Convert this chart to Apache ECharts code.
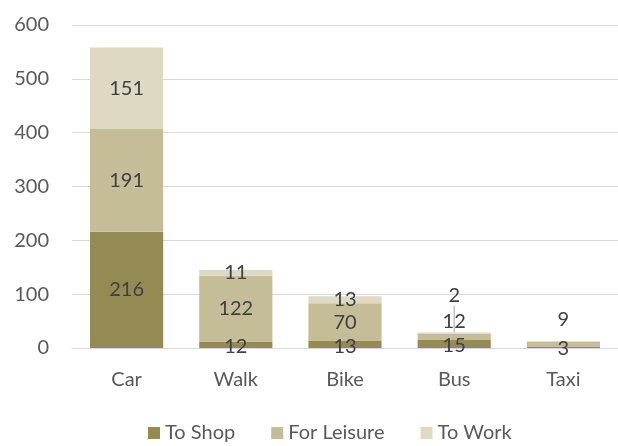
<!DOCTYPE html>
<html>
<head>
<meta charset="utf-8">
<script src="https://cdn.jsdelivr.net/npm/echarts@6/dist/echarts.min.js"></script>
<style>
    html, body { margin: 0; padding: 0; background: #fff; }
    #chart { width: 618px; height: 446px; }
</style>
</head>
<body>
<div id="chart"></div>
<script>
// data
const modes = ['Car', 'Walk', 'Bike', 'Bus', 'Taxi']
const toShop = [216, 12, 13, 15, 3]
const forLeisure = [191, 122, 70, 12, 9]
const toWork = [151, 11, 13, 2, 0]
const yTicks = [0, 100, 200, 300, 400, 500, 600]

// label nudges for the small segments (seriesIndex-dataIndex -> [dx, dy])
const labelShift = {
    '0-1': [0, 2], '0-2': [0, 2], '0-3': [0, 2], '0-4': [0, 1],
    '1-3': [0, -15], '1-4': [0, -24],
    '2-3': [0, -37]
}

const font = 'Lato, "Open Sans", sans-serif'
const textColor = '#595959'
const colors = ['#948a54', '#c4bd97', '#ddd9c3']

let chart = echarts.init(document.getElementById('chart'), null, {renderer: 'canvas'})

function makeSeries(name, data, idx) {
    return {
        name: name,
        type: 'bar',
        stack: 'total',
        barWidth: '67%',
        data: data,
        itemStyle: { color: colors[idx] },
        label: {
            show: true,
            position: 'inside',
            offset: [0, 2],
            color: '#404040',
            fontFamily: font,
            fontSize: 20,
            formatter: function (p) { return p.value ? String(p.value) : '' }
        },
        labelLine: {
            show: idx === 2,
            lineStyle: { color: '#a6a6a6', width: 1 }
        },
        labelLayout: function (p) {
            let s = labelShift[idx + '-' + p.dataIndex]
            if (!s) return {}
            return { dx: s[0], dy: s[1] }
        }
    }
}

chart.setOption({
    backgroundColor: '#fff',
    animation: false,
    grid: {
        left: 72,
        top: 25,
        width: 555,
        height: 323
    },
    legend: {
        data: ['To Shop', 'For Leisure', 'To Work'],
        left: 143,
        top: 418,
        icon: 'rect',
        itemWidth: 12,
        itemHeight: 12,
        itemGap: 36,
        textStyle: { color: textColor, fontFamily: font, fontSize: 20 }
    },
    xAxis: {
        type: 'category',
        data: modes,
        axisLine: { lineStyle: { color: '#d9d9d9' } },
        axisTick: { show: false },
        axisLabel: { color: textColor, fontFamily: font, fontSize: 20, margin: 22 }
    },
    yAxis: {
        type: 'value',
        min: yTicks[0],
        max: yTicks[yTicks.length - 1],
        interval: yTicks[1] - yTicks[0],
        axisLine: { show: false },
        axisTick: { show: false },
        splitLine: { lineStyle: { color: '#d9d9d9' } },
        axisLabel: { color: textColor, fontFamily: font, fontSize: 20, margin: 23 }
    },
    series: [
        makeSeries('To Shop', toShop, 0),
        makeSeries('For Leisure', forLeisure, 1),
        makeSeries('To Work', toWork, 2)
    ]
})
</script>
</body>
</html>
